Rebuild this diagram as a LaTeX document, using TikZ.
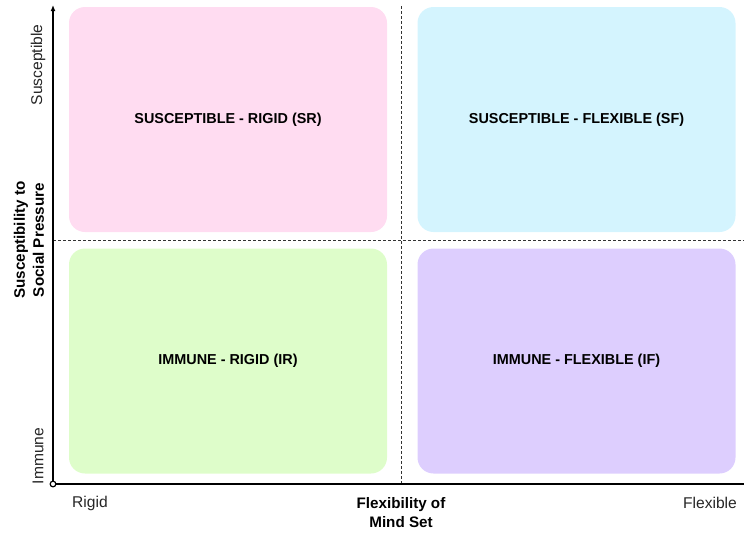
\documentclass[tikz,border=0pt]{standalone}
\usepackage{fontspec}
\setmainfont{Liberation Sans}
\usetikzlibrary{arrows.meta}

\definecolor{srpink}{HTML}{FFDCF1}
\definecolor{sfcyan}{HTML}{D4F4FE}
\definecolor{irgreen}{HTML}{DEFDCA}
\definecolor{ifpurple}{HTML}{DDCEFE}

\tikzset{
  quad/.style={rounded corners=16pt, inner sep=0pt, minimum width=318pt, minimum height=225pt,
    font=\bfseries\fontsize{14.4}{17}\selectfont},
  axis/.style={line width=1.6pt, black},
  split/.style={line width=0.7pt, black!80, dash pattern=on 3pt off 2pt},
  tick/.style={font=\fontsize{15.6}{18}\selectfont, text=black!85},
  title/.style={font=\bfseries\fontsize{15.2}{19}\selectfont, align=center}
}

\begin{document}
\begin{tikzpicture}[x=1pt,y=-1pt]
    \useasboundingbox (0,0) rectangle (744,533);

    % Quadrants
    \node[quad, fill=srpink] (sr) at (228,119.5) {SUSCEPTIBLE - RIGID (SR)};
    \node[quad, fill=sfcyan] (sf) at (576.5,119.5) {SUSCEPTIBLE - FLEXIBLE (SF)};
    \node[quad, fill=irgreen] (ir) at (228,361) {IMMUNE - RIGID (IR)};
    \node[quad, fill=ifpurple] (if) at (576.5,361) {IMMUNE - FLEXIBLE (IF)};

    % Dashed dividers
    \coordinate (vtop) at (401,6);
    \coordinate (vbot) at (401,484);
    \coordinate (hleft) at (53,240);
    \coordinate (hright) at (744,240);
    \draw[split] (vtop) -- (vbot);
    \draw[split] (hleft) -- (hright);

    % Axes
    \coordinate (origin) at (53,484);
    \coordinate (ytop) at (53,5);
    \coordinate (xend) at (744,484);
    \draw[axis, -{Latex[length=6pt,width=5pt]}] (origin) -- (ytop);
    \draw[axis] (origin) -- (xend);
    \node[circle, draw, line width=1.2pt, fill=white, inner sep=2pt] (orig) at (origin) {};

    % Labels
    \node[tick, rotate=90] (susc) at (38,65) {Susceptible};
    \node[tick, rotate=90] (imm) at (38,456) {Immune};
    \node[title, rotate=90] (ylab) at (29,240) {Susceptibility to\\Social Pressure};
    \node[tick] (rigid) at (90,503) {Rigid};
    \node[tick] (flex) at (710,503) {Flexible};
    \node[title] (xlab) at (401,513) {Flexibility of\\Mind Set};
\end{tikzpicture}
\end{document}
